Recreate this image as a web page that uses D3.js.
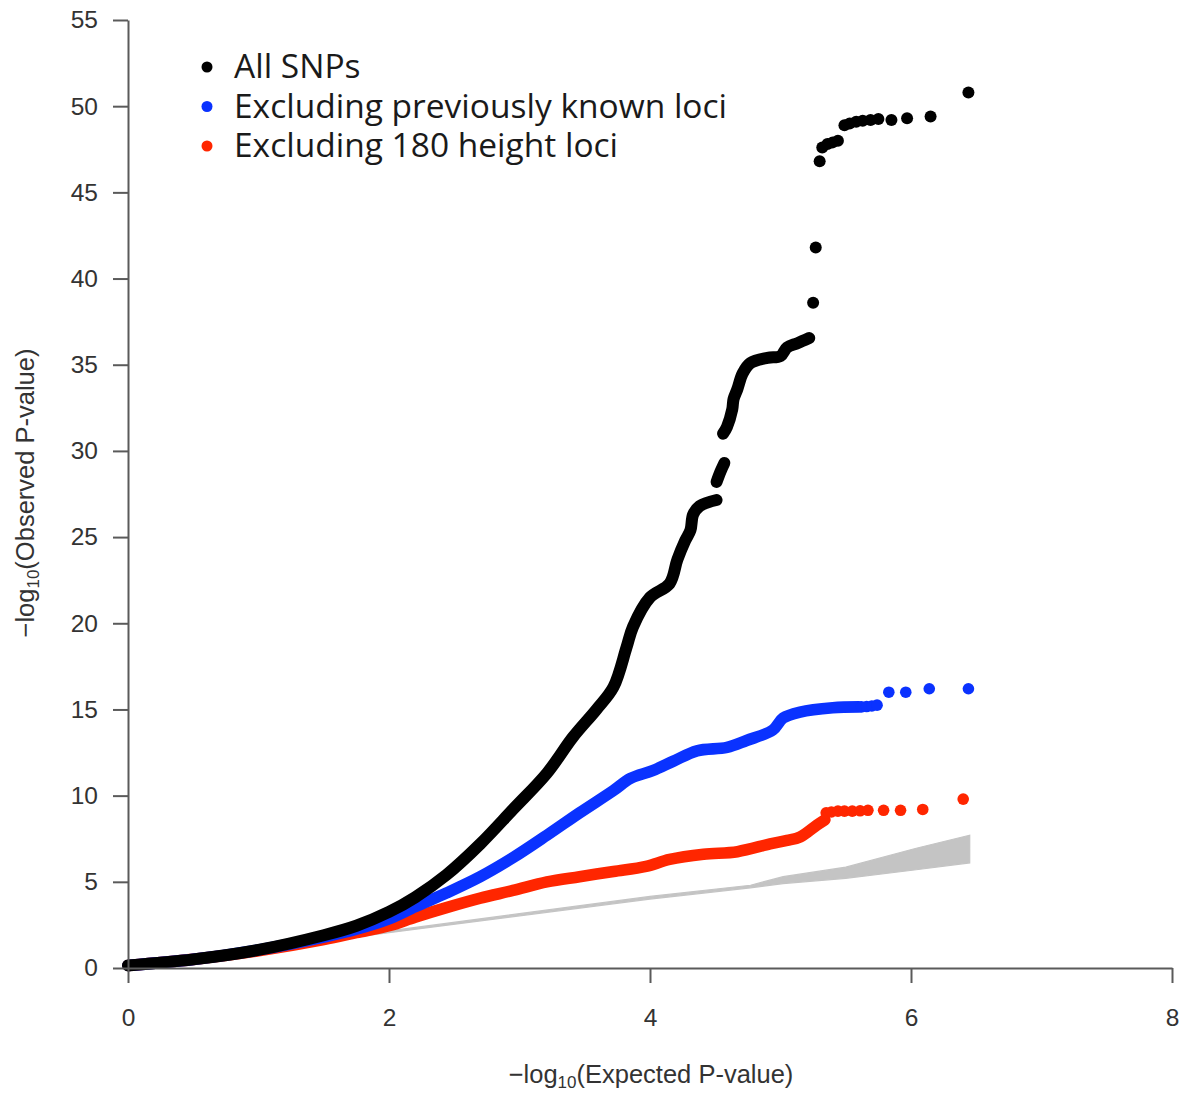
<!DOCTYPE html>
<html lang="en">
<head>
<meta charset="UTF-8">
<title>QQ plot</title>
<script src="https://cdnjs.cloudflare.com/ajax/libs/d3/7.8.5/d3.min.js"></script>
<style>
    body { margin: 0; background: #fff; }
    .tick text { font-family: "Liberation Sans", Arial, sans-serif; font-size: 24.5px; fill: #333; }
    .axis path, .axis line { stroke: #5a5a5a; stroke-width: 2; }
    .title { font-family: "Liberation Sans", Arial, sans-serif; font-size: 25.5px; fill: #333; }
    .legend text { font-family: "Open Sans", Lato, sans-serif; font-size: 33.5px; fill: #1a1a1a; }
</style>
</head>
<body>
<svg id="chart" width="1183" height="1094"></svg>
<script>
// ticks
const xTicks = [0, 2, 4, 6, 8]
const yTicks = [0, 5, 10, 15, 20, 25, 30, 35, 40, 45, 50, 55]

// legend
const seriesNames = ['All SNPs', 'Excluding previously known loci', 'Excluding 180 height loci']
const seriesColors = ['#000000', '#0a32ff', '#ff2600']

// null band (grey), [expected, observed]
const nullLower = [[0, 0.05], [2, 2.05], [4, 4.0], [4.77, 4.65], [5.02, 4.9], [5.5, 5.2], [6.04, 5.7], [6.45, 6.1]]
const nullUpper = [[0, 0.1], [2, 2.15], [4, 4.15], [4.77, 4.8], [5.02, 5.3], [5.5, 5.85], [6.04, 6.95], [6.45, 7.7]]

// All SNPs - dense part (three runs) and tail points
const allRun1 = [[0, 0.15], [0.5, 0.5], [1.0, 1.05], [1.5, 1.9], [1.75, 2.45], [2.0, 3.25], [2.2, 4.1], [2.44, 5.4], [2.70, 7.2],
    [2.95, 9.2], [3.21, 11.3], [3.41, 13.4], [3.59, 15.0], [3.72, 16.3], [3.82, 18.6], [3.87, 19.8], [4.0, 21.5],
    [4.15, 22.3], [4.21, 23.7], [4.27, 24.8], [4.31, 25.4], [4.33, 26.3], [4.38, 26.8], [4.51, 27.15]]
const allRun2 = [[4.51, 28.2], [4.54, 28.8], [4.57, 29.3]]
const allRun3 = [[4.56, 31.0], [4.59, 31.4], [4.63, 32.4], [4.64, 33.0], [4.67, 33.6], [4.71, 34.5], [4.77, 35.1],
    [4.90, 35.4], [5.0, 35.5], [5.05, 36.0], [5.13, 36.25], [5.22, 36.55]]
const allTail = [[5.25, 38.6], [5.27, 41.8], [5.30, 46.8], [5.32, 47.6], [5.36, 47.8], [5.40, 47.9], [5.44, 48.0],
    [5.49, 48.9], [5.53, 49.0], [5.58, 49.1], [5.63, 49.15], [5.69, 49.2], [5.75, 49.25], [5.85, 49.2],
    [5.97, 49.3], [6.15, 49.4], [6.44, 50.8]]

// Excluding previously known loci
const knownRun = [[0, 0.15], [0.5, 0.5], [1.0, 1.05], [1.5, 1.8], [1.75, 2.25], [2.0, 2.85], [2.2, 3.55], [2.44, 4.35], [2.70, 5.3],
    [2.95, 6.4], [3.21, 7.7], [3.46, 9.0], [3.72, 10.3], [3.85, 11.0], [4.02, 11.45], [4.18, 12.0], [4.36, 12.6],
    [4.59, 12.8], [4.74, 13.2], [4.94, 13.8], [5.02, 14.5], [5.15, 14.85], [5.40, 15.1], [5.60, 15.15]]
const knownTail = [[5.62, 15.15], [5.66, 15.17], [5.70, 15.2], [5.74, 15.25], [5.83, 16.0], [5.96, 16.0], [6.14, 16.2], [6.44, 16.2]]

// Excluding 180 height loci
const heightRun = [[0, 0.15], [0.5, 0.5], [1.0, 1.0], [1.5, 1.65], [1.75, 2.05], [2.0, 2.45], [2.2, 2.95], [2.44, 3.5], [2.70, 4.05],
    [2.95, 4.5], [3.21, 5.0], [3.46, 5.3], [3.72, 5.6], [3.97, 5.9], [4.15, 6.3], [4.41, 6.6], [4.67, 6.75],
    [4.92, 7.2], [5.05, 7.4], [5.15, 7.6], [5.28, 8.3], [5.34, 8.6]]
const heightTail = [[5.35, 9.0], [5.39, 9.05], [5.44, 9.1], [5.49, 9.1], [5.55, 9.1], [5.61, 9.12], [5.67, 9.15],
    [5.79, 9.15], [5.92, 9.15], [6.09, 9.2], [6.40, 9.8]]

const svg = d3.select('#chart')

const x = d3.scaleLinear().domain([0, 8]).range([128, 1172])
const y = d3.scaleLinear().domain([0, 55]).range([968, 20])

// grey null band
const band = nullLower.concat(nullUpper.slice().reverse())
svg.append('path')
    .attr('d', d3.line().x(d => x(d[0])).y(d => y(d[1]))(band) + 'Z')
    .attr('fill', '#c4c4c4')
    .attr('stroke', '#c4c4c4')
    .attr('stroke-width', 1.2)

const line = d3.line().x(d => x(d[0])).y(d => y(d[1])).curve(d3.curveCatmullRom.alpha(0.5))

const drawSeries = (runs, tail, color, r) => {
    const g = svg.append('g')
    runs.forEach(run => {
        g.append('path')
            .attr('d', line(run))
            .attr('fill', 'none')
            .attr('stroke', color)
            .attr('stroke-width', r * 2)
            .attr('stroke-linecap', 'round')
            .attr('stroke-linejoin', 'round')
    })
    g.selectAll('circle').data(tail).enter()
        .append('circle')
        .attr('cx', d => x(d[0]))
        .attr('cy', d => y(d[1]))
        .attr('r', r)
        .attr('fill', color)
}

drawSeries([heightRun], heightTail, seriesColors[2], 5.8)
drawSeries([knownRun], knownTail, seriesColors[1], 5.8)
drawSeries([allRun1, allRun2, allRun3], allTail, seriesColors[0], 6)

// axes
svg.append('g').attr('class', 'axis')
    .attr('transform', 'translate(0,968)')
    .call(d3.axisBottom(x).tickValues(xTicks).tickSize(15).tickSizeOuter(0).tickPadding(26))
svg.append('g').attr('class', 'axis')
    .attr('transform', 'translate(128,0)')
    .call(d3.axisLeft(y).tickValues(yTicks).tickSize(15).tickSizeOuter(0).tickPadding(15))

// axis titles
const xt = svg.append('text').attr('class', 'title')
    .attr('x', 651).attr('y', 1083).attr('text-anchor', 'middle')
xt.append('tspan').text('\u2212log')
xt.append('tspan').attr('dy', 5).style('font-size', '17px').text('10')
xt.append('tspan').attr('dy', -5).text('(Expected P-value)')

const yt = svg.append('text').attr('class', 'title')
    .attr('transform', 'translate(34,493) rotate(-90)').attr('text-anchor', 'middle')
yt.append('tspan').text('\u2212log')
yt.append('tspan').attr('dy', 5).style('font-size', '17px').text('10')
yt.append('tspan').attr('dy', -5).text('(Observed P-value)')

// legend
const legend = svg.append('g').attr('class', 'legend')
seriesNames.forEach((name, i) => {
    legend.append('circle').attr('cx', 207).attr('cy', 67 + i * 39.5).attr('r', 5.5).attr('fill', seriesColors[i])
    legend.append('text').attr('x', 234).attr('y', 78 + i * 39.5).text(name)
})
</script>
</body>
</html>
